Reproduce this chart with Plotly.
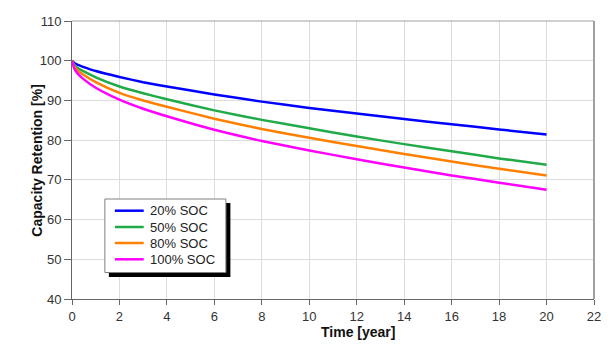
import plotly.graph_objects as go

years = [0, 0.1, 0.25, 0.5, 1, 2, 3, 4, 6, 8, 10, 12, 14, 16, 18, 20]
soc20 = [100, 99.4, 98.95, 98.4, 97.4, 95.9, 94.6, 93.5, 91.5, 89.7, 88.1, 86.7, 85.3, 84.0, 82.7, 81.4]
soc50 = [100, 98.9, 98.1, 97.3, 95.8, 93.5, 91.8, 90.3, 87.5, 85.1, 83.0, 80.9, 79.0, 77.2, 75.4, 73.8]
soc80 = [100, 98.5, 97.5, 96.4, 94.6, 91.9, 90.0, 88.4, 85.4, 82.8, 80.6, 78.5, 76.5, 74.6, 72.8, 71.1]
soc100 = [100, 98.0, 96.7, 95.3, 93.2, 90.2, 87.9, 86.0, 82.6, 79.8, 77.4, 75.2, 73.1, 71.1, 69.3, 67.5]

series = [
    ("20% SOC", soc20, "#0000ff"),
    ("50% SOC", soc50, "#20aa48"),
    ("80% SOC", soc80, "#ff8000"),
    ("100% SOC", soc100, "#ff00ff"),
]

W, H = 613, 353
ml, mr, mt, mb = 72, 17, 21, 54
pw, ph = W - ml - mr, H - mt - mb

def px(x):
    return (x - ml) / pw

def py(y):
    return (H - mb - y) / ph

fig = go.Figure()
for name, vals, col in series:
    fig.add_trace(go.Scatter(x=years, y=vals, name=name, mode="lines",
                             line=dict(color=col, width=2.5, shape="spline", smoothing=0.5)))

axis_common = dict(showline=True, linecolor="#666666", linewidth=1, ticks="outside",
                   tickcolor="#666666", showgrid=True, gridcolor="#dcdcdc", gridwidth=1,
                   zeroline=False, tickfont=dict(family="Arial, Liberation Sans", size=13, color="#333333"))

shapes = [
    # legend shadow and box
    dict(type="rect", xref="paper", yref="paper", x0=px(109), x1=px(231), y0=py(277), y1=py(203),
         fillcolor="black", line=dict(width=0), layer="above"),
    dict(type="rect", xref="paper", yref="paper", x0=px(105), x1=px(226.5), y0=py(272.5), y1=py(199),
         fillcolor="white", line=dict(color="#808080", width=1), layer="above"),
    # frame top / right
    dict(type="line", xref="paper", yref="paper", x0=0, x1=1, y0=1, y1=1,
         line=dict(color="#a0a0a0", width=1), layer="above"),
    dict(type="line", xref="paper", yref="paper", x0=1, x1=1, y0=0, y1=1,
         line=dict(color="#a0a0a0", width=2), layer="above"),
]

annotations = [
    dict(text="<b>Time [year]</b>", xref="paper", yref="paper",
         x=px(359.5), y=py(332), xanchor="center", yanchor="middle",
         showarrow=False, font=dict(size=14, color="#111111")),
    dict(text="<b>Capacity Retention [%]</b>", xref="paper", yref="paper",
         x=px(36.5), y=py(161), xanchor="center", yanchor="middle",
         textangle=-90, showarrow=False, font=dict(size=14, color="#111111")),
]

legend_y = [210.7, 227, 243, 259.3]
for (name, vals, col), ly in zip(series, legend_y):
    shapes.append(dict(type="line", xref="paper", yref="paper", x0=px(115), x1=px(144),
                       y0=py(ly), y1=py(ly), line=dict(color=col, width=2.5), layer="above"))
    annotations.append(dict(text=name, xref="paper", yref="paper", x=px(148), y=py(ly),
                            xanchor="left", yanchor="middle", showarrow=False,
                            font=dict(size=13, color="#222222")))

fig.update_layout(
    width=W, height=H, margin=dict(l=ml, r=mr, t=mt, b=mb),
    paper_bgcolor="white", plot_bgcolor="white",
    font=dict(family="Arial, Liberation Sans", size=13, color="#222222"),
    xaxis=dict(range=[0, 22], dtick=2, tick0=0, ticklen=5, **axis_common),
    yaxis=dict(range=[40, 110], dtick=10, tick0=40, ticklen=7, **axis_common),
    showlegend=False,
    shapes=shapes,
    annotations=annotations,
)

fig.write_html("out.html")
